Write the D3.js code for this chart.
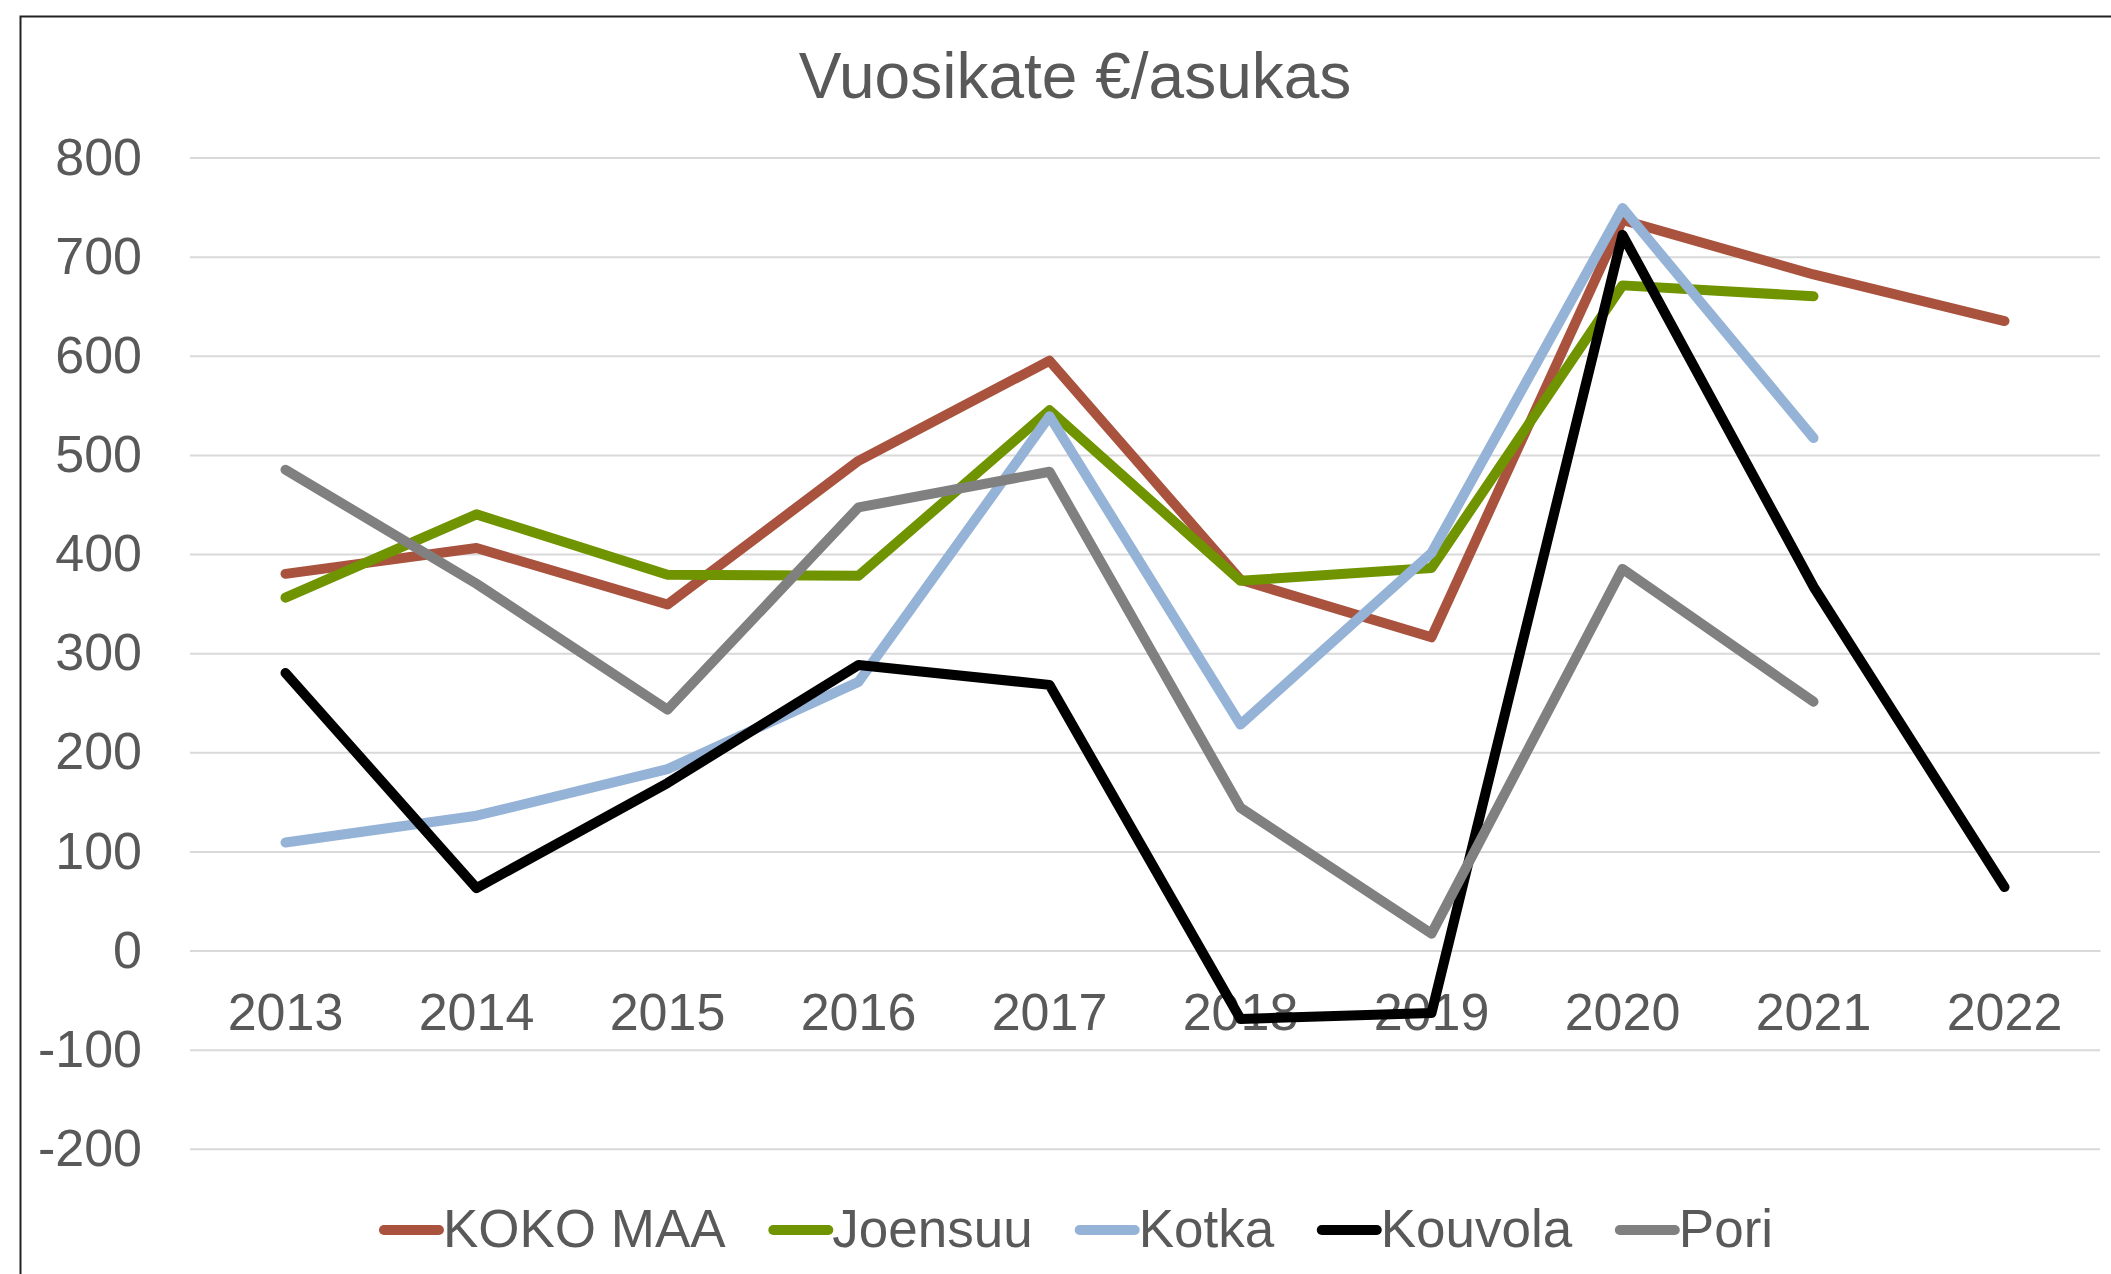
<!DOCTYPE html>
<html>
<head>
<meta charset="utf-8">
<script src="https://cdn.jsdelivr.net/npm/d3@7/dist/d3.min.js"></script>
<style>
  html, body { margin: 0; padding: 0; background: #fff; }
  svg { display: block; }
</style>
</head>
<body>
<script>
const categories = ["2013","2014","2015","2016","2017","2018","2019","2020","2021","2022"];
const seriesNames = ["KOKO MAA","Joensuu","Kotka","Kouvola","Pori"];
const kokoMaa = [380, 406, 349, 494, 595, 374, 316, 737, 682, 635];
const joensuu = [356, 440, 379, 378, 545, 373, 386, 671, 660];
const kotka   = [109, 136, 183, 271, 539, 228, 401, 749, 517];
const kouvola = [280, 63, 169, 288, 268, -69, -63, 722, 367, 64];
const pori    = [485, 370, 243, 447, 483, 144, 17, 385, 251];
const yTicks = [-200,-100,0,100,200,300,400,500,600,700,800];
const titleText = "Vuosikate €/asukas";

(function () {
const seriesValues = [kokoMaa, joensuu, kotka, kouvola, pori];
const colors = ["#A9533F", "#6F9400", "#95B3D7", "#000000", "#808080"];

const W = 2111, H = 1274;
const font = "'Liberation Sans', Arial, sans-serif";
const textColor = "#595959";

const svg = d3.select("body").append("svg")
  .attr("width", W).attr("height", H)
  .style("font-family", font);

// chart frame (continues beyond right/bottom edges)
svg.append("rect")
  .attr("x", 20.5).attr("y", 16.5)
  .attr("width", 2300).attr("height", 1500)
  .attr("fill", "#fff")
  .attr("stroke", "#222").attr("stroke-width", 2);

const plotLeft = 190, plotRight = 2100, plotTop = 157.5, plotBottom = 1148.8;

const x = d3.scaleBand().domain(categories).range([plotLeft, plotRight]).padding(0);
const y = d3.scaleLinear().domain([-200, 800]).range([plotBottom, plotTop]);

// title
svg.append("text")
  .attr("x", 1075).attr("y", 98)
  .attr("text-anchor", "middle")
  .attr("fill", textColor)
  .style("font-size", "64px")
  .text(titleText);

// y axis with gridlines
const yAxis = svg.append("g")
  .attr("transform", `translate(${plotLeft},0)`)
  .call(d3.axisLeft(y).tickValues(yTicks).tickSize(-(plotRight - plotLeft)).tickPadding(48));
yAxis.select(".domain").remove();
yAxis.selectAll(".tick line").attr("stroke", "#D9D9D9").attr("stroke-width", 2);
yAxis.selectAll(".tick text")
  .attr("fill", textColor)
  .style("font-size", "52px")
  .style("font-family", font)
  .text(d => d < 0 ? "-" + Math.abs(d) : String(d));

// x axis labels at zero line
const xAxis = svg.append("g")
  .attr("transform", `translate(0,${y(0)})`)
  .call(d3.axisBottom(x).tickSize(0).tickPadding(43));
xAxis.select(".domain").attr("stroke", "#D9D9D9").attr("stroke-width", 2);
xAxis.selectAll(".tick text")
  .attr("fill", textColor)
  .style("font-size", "52px")
  .style("font-family", font);

// lines
const line = d3.line()
  .x((d, i) => x(categories[i]) + x.bandwidth() / 2)
  .y(d => y(d));

seriesValues.forEach((vals, si) => {
  svg.append("path")
    .datum(vals)
    .attr("d", line)
    .attr("fill", "none")
    .attr("stroke", colors[si])
    .attr("stroke-width", 10)
    .attr("stroke-linejoin", "round")
    .attr("stroke-linecap", "round");
});

// legend
const legend = svg.append("g");
const items = legend.selectAll("g.item").data(seriesNames).enter().append("g").attr("class", "item");
items.append("line")
  .attr("x1", 0).attr("x2", 55).attr("y1", 0).attr("y2", 0)
  .attr("stroke", (d, i) => colors[i])
  .attr("stroke-width", 10)
  .attr("stroke-linecap", "round");
items.append("text")
  .attr("x", 59).attr("y", 17)
  .attr("fill", textColor)
  .style("font-size", "53px")
  .text(d => d);
const widths = [];
items.each(function () { widths.push(this.getBBox().width); });
const gap = 47;
const total = d3.sum(widths) + gap * (widths.length - 1);
let cx = 1078.5 - total / 2;
items.attr("transform", (d, i) => {
  const t = `translate(${cx},1230)`;
  cx += widths[i] + gap;
  return t;
});
})();
</script>
</body>
</html>
